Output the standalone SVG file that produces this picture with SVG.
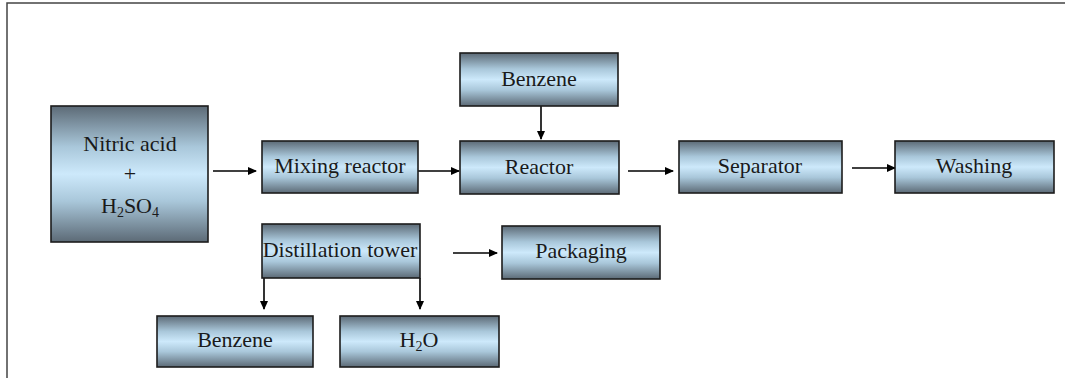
<svg xmlns="http://www.w3.org/2000/svg" width="1065" height="378" viewBox="0 0 1065 378">
  <style>
    .box { fill: url(#g); stroke: #1c1c1c; stroke-width: 1.6; }
    .t { font-family: "Liberation Serif", "Times New Roman", serif; font-size: 22px; fill: #1a1a1a; text-anchor: middle; }
    .sub { font-size: 14px; }
    .c { stroke: #000; stroke-width: 1.6; fill: none; marker-end: url(#ah); }
    .frame { stroke: #444; stroke-width: 1.5; fill: none; }
  </style>
  <defs>
    <linearGradient id="g" x1="0" y1="0" x2="0" y2="1">
      <stop offset="0" stop-color="#5c6a76"/>
      <stop offset="0.3" stop-color="#a9c7da"/>
      <stop offset="0.5" stop-color="#cde9fb"/>
      <stop offset="0.7" stop-color="#a9c7da"/>
      <stop offset="1" stop-color="#5c6a76"/>
    </linearGradient>
    <marker id="ah" markerWidth="9" markerHeight="8" refX="8" refY="4" orient="auto" markerUnits="userSpaceOnUse">
      <path d="M0,0 L9,4 L0,8 Z" fill="#000"/>
    </marker>
  </defs>

  <path class="frame" d="M7,378 L7,3 L1065,3"/>

  <g id="connectors">
    <line class="c" x1="213" y1="171" x2="256" y2="171"/>
    <line class="c" x1="418" y1="171" x2="459" y2="171"/>
    <line class="c" x1="541" y1="106" x2="541" y2="139"/>
    <line class="c" x1="628" y1="171" x2="673" y2="171"/>
    <line class="c" x1="852" y1="168" x2="895" y2="168"/>
    <line class="c" x1="453" y1="253" x2="497" y2="253"/>
    <line class="c" x1="264" y1="278" x2="264" y2="309"/>
    <line class="c" x1="420" y1="278" x2="420" y2="309"/>
  </g>

  <g id="nitric">
    <rect class="box" x="51" y="106" width="157" height="136"/>
    <text class="t" x="130" y="151">Nitric acid</text>
    <text class="t" x="130" y="181">+</text>
    <text class="t" x="130" y="213">H<tspan class="sub" dy="4">2</tspan><tspan dy="-4">SO</tspan><tspan class="sub" dy="4">4</tspan></text>
  </g>

  <g id="mixing">
    <rect class="box" x="262" y="141" width="156" height="52"/>
    <text class="t" x="340" y="173">Mixing reactor</text>
  </g>

  <g id="benzene-top">
    <rect class="box" x="460" y="53" width="158" height="53"/>
    <text class="t" x="539" y="86">Benzene</text>
  </g>

  <g id="reactor">
    <rect class="box" x="460" y="141" width="159" height="53"/>
    <text class="t" x="539" y="174">Reactor</text>
  </g>

  <g id="separator">
    <rect class="box" x="679" y="141" width="163" height="52"/>
    <text class="t" x="760" y="173">Separator</text>
  </g>

  <g id="washing">
    <rect class="box" x="895" y="141" width="159" height="52"/>
    <text class="t" x="974" y="173">Washing</text>
  </g>

  <g id="distillation">
    <rect class="box" x="262" y="224" width="158" height="54"/>
    <text class="t" x="340" y="257">Distillation tower</text>
  </g>

  <g id="packaging">
    <rect class="box" x="502" y="226" width="158" height="53"/>
    <text class="t" x="581" y="258">Packaging</text>
  </g>

  <g id="benzene-bottom">
    <rect class="box" x="157" y="316" width="156" height="51"/>
    <text class="t" x="235" y="347">Benzene</text>
  </g>

  <g id="water">
    <rect class="box" x="340" y="316" width="159" height="51"/>
    <text class="t" x="419" y="347">H<tspan class="sub" dy="4">2</tspan><tspan dy="-4">O</tspan></text>
  </g>
</svg>
